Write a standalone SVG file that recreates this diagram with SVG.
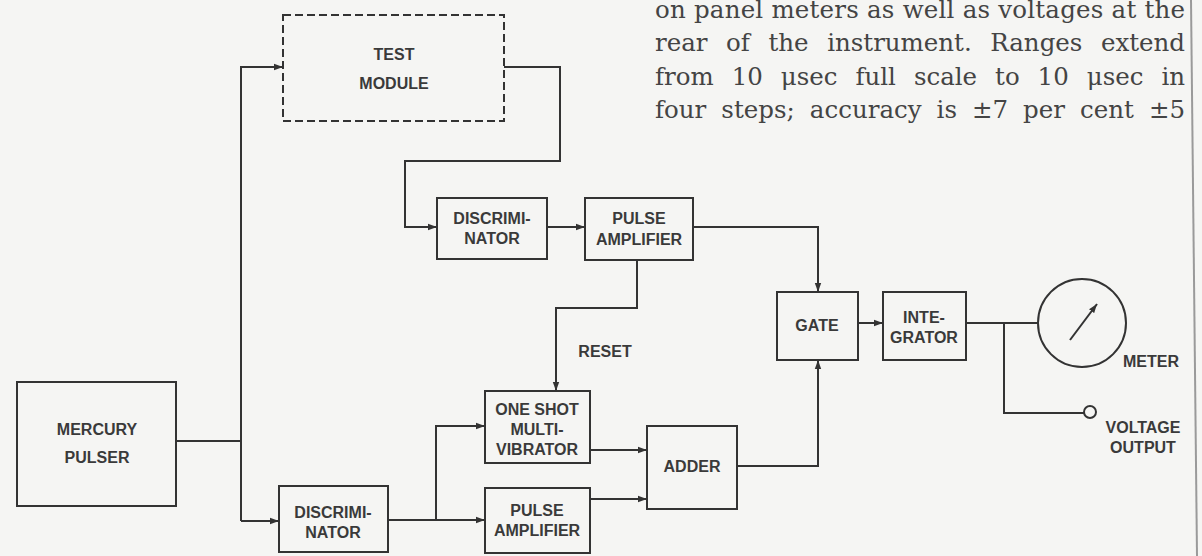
<svg xmlns="http://www.w3.org/2000/svg" width="1202" height="556" viewBox="0 0 1202 556">
  <defs>
    <marker id="arr" markerUnits="userSpaceOnUse" markerWidth="10" markerHeight="8" refX="9" refY="4" orient="auto">
      <path d="M0,0.8 L9,4 L0,7.2 Z" fill="#333"/>
    </marker>
    <style>
      .box { fill: none; stroke: #333; stroke-width: 2; }
      .dash { fill: none; stroke: #333; stroke-width: 2; stroke-dasharray: 8 4; }
      .wire { fill: none; stroke: #333; stroke-width: 2; }
      .lbl { font-family: "Liberation Sans", Arial, sans-serif; font-weight: bold; font-size: 16px; fill: #3a3a3a; text-anchor: middle; }
      .body { font-family: "DejaVu Serif", "Liberation Serif", serif; font-size: 24.5px; fill: #444; }
    </style>
  </defs>
  <rect x="0" y="0" width="1202" height="556" fill="#f5f5f3"/>
  <line x1="1191" y1="0" x2="1197" y2="556" stroke="#9a9a9a" stroke-width="2"/>

  <g id="paragraph">
    <text class="body" x="655" y="18" textLength="530" lengthAdjust="spacing">on panel meters as well as voltages at the</text>
    <text class="body" x="655" y="51" word-spacing="10.8" textLength="530" lengthAdjust="spacing">rear of the instrument. Ranges extend</text>
    <text class="body" x="655" y="85" word-spacing="10.2" textLength="530" lengthAdjust="spacing">from 10 μsec full scale to 10 μsec in</text>
    <text class="body" x="655" y="118" word-spacing="7.2" textLength="530" lengthAdjust="spacing">four steps; accuracy is ±7 per cent ±5</text>
  </g>

  <g id="connectors">
    <path class="wire" d="M176,441 H241"/>
    <path class="wire" d="M241,521 V67 H283" marker-end="url(#arr)"/>
    <path class="wire" d="M241,521 H279" marker-end="url(#arr)"/>
    <path class="wire" d="M504,67 H560 V161 H405 V227 H437" marker-end="url(#arr)"/>
    <path class="wire" d="M547,227 H585" marker-end="url(#arr)"/>
    <path class="wire" d="M693,227 H818 V292" marker-end="url(#arr)"/>
    <path class="wire" d="M637,260 V308 H556 V391" marker-end="url(#arr)"/>
    <path class="wire" d="M388,520 H436 V426 H485" marker-end="url(#arr)"/>
    <path class="wire" d="M436,520 H485" marker-end="url(#arr)"/>
    <path class="wire" d="M590,450 H647" marker-end="url(#arr)"/>
    <path class="wire" d="M590,499 H647" marker-end="url(#arr)"/>
    <path class="wire" d="M737,466 H818 V360" marker-end="url(#arr)"/>
    <path class="wire" d="M858,323 H883" marker-end="url(#arr)"/>
    <path class="wire" d="M966,323 H1038"/>
    <path class="wire" d="M1004,323 V413 H1084"/>
  </g>

  <g id="test-module">
    <rect class="dash" x="283" y="15" width="221" height="106"/>
    <text class="lbl" x="394" y="60">TEST</text>
    <text class="lbl" x="394" y="89">MODULE</text>
  </g>

  <g id="discriminator-top">
    <rect class="box" x="437" y="198" width="110" height="61"/>
    <text class="lbl" x="492" y="224">DISCRIMI-</text>
    <text class="lbl" x="492" y="244">NATOR</text>
  </g>

  <g id="pulse-amplifier-top">
    <rect class="box" x="585" y="198" width="108" height="62"/>
    <text class="lbl" x="639" y="224">PULSE</text>
    <text class="lbl" x="639" y="245">AMPLIFIER</text>
  </g>

  <g id="reset-label">
    <text class="lbl" x="605" y="357">RESET</text>
  </g>

  <g id="mercury-pulser">
    <rect class="box" x="17" y="382" width="159" height="124"/>
    <text class="lbl" x="97" y="435">MERCURY</text>
    <text class="lbl" x="97" y="463">PULSER</text>
  </g>

  <g id="discriminator-bottom">
    <rect class="box" x="279" y="486" width="109" height="66"/>
    <text class="lbl" x="333" y="518">DISCRIMI-</text>
    <text class="lbl" x="333" y="538">NATOR</text>
  </g>

  <g id="one-shot">
    <rect class="box" x="485" y="391" width="105" height="72"/>
    <text class="lbl" x="537" y="415">ONE SHOT</text>
    <text class="lbl" x="537" y="435">MULTI-</text>
    <text class="lbl" x="537" y="455">VIBRATOR</text>
  </g>

  <g id="pulse-amplifier-bottom">
    <rect class="box" x="485" y="488" width="105" height="65"/>
    <text class="lbl" x="537" y="516">PULSE</text>
    <text class="lbl" x="537" y="536">AMPLIFIER</text>
  </g>

  <g id="adder">
    <rect class="box" x="647" y="426" width="90" height="83"/>
    <text class="lbl" x="692" y="472">ADDER</text>
  </g>

  <g id="gate">
    <rect class="box" x="777" y="292" width="81" height="68"/>
    <text class="lbl" x="817" y="331">GATE</text>
  </g>

  <g id="integrator">
    <rect class="box" x="883" y="292" width="83" height="68"/>
    <text class="lbl" x="924" y="323">INTE-</text>
    <text class="lbl" x="924" y="343">GRATOR</text>
  </g>

  <g id="meter">
    <circle class="box" cx="1082" cy="323" r="44"/>
    <line class="wire" x1="1070" y1="340" x2="1097" y2="304" marker-end="url(#arr)"/>
    <text class="lbl" x="1151" y="367">METER</text>
  </g>

  <g id="voltage-output">
    <circle class="box" cx="1090" cy="412" r="6"/>
    <text class="lbl" x="1143" y="433">VOLTAGE</text>
    <text class="lbl" x="1143" y="453">OUTPUT</text>
  </g>
</svg>
